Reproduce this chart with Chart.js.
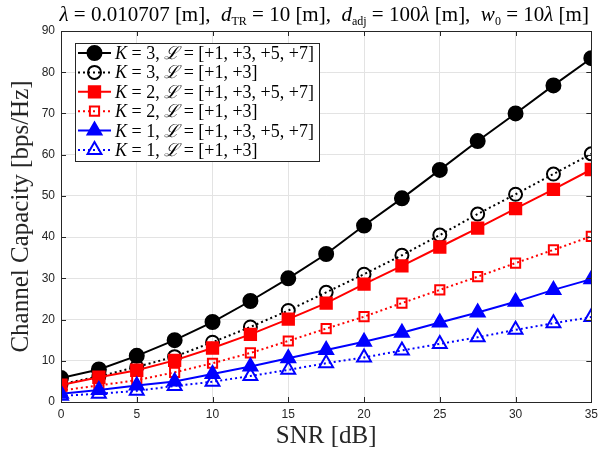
<!DOCTYPE html>
<html>
<head>
<meta charset="utf-8">
<script src="https://cdn.jsdelivr.net/npm/chart.js@4"></script>
<style>
  body { margin: 0; background: #fff; }
  #wrap { width: 603px; height: 451px; }
</style>
</head>
<body>
<div id="wrap"><canvas id="capacityChart" width="603" height="451"></canvas></div>
<script>
// SNR in dB
const snr = [0, 2.5, 5, 7.5, 10, 12.5, 15, 17.5, 20, 22.5, 25, 27.5, 30, 32.5, 35];

// channel capacity [bps/Hz]
const k3Full = [5.8, 7.9, 11.2, 15.0, 19.4, 24.5, 30.0, 35.9, 42.8, 49.4, 56.3, 63.3, 70.0, 76.8, 83.4];
const k3Half = [4.3, 6.2, 8.5, 11.0, 14.5, 18.2, 22.2, 26.6, 31.0, 35.6, 40.5, 45.6, 50.4, 55.3, 60.2];
const k2Full = [4.1, 6.0, 7.7, 10.1, 13.1, 16.4, 20.1, 24.0, 28.6, 33.0, 37.6, 42.2, 46.9, 51.6, 56.4];
const k2Half = [2.8, 4.0, 5.3, 7.2, 9.4, 11.9, 14.8, 17.8, 20.7, 24.0, 27.2, 30.4, 33.7, 36.9, 40.2];
const k1Full = [2.0, 2.9, 4.0, 5.0, 6.8, 8.6, 10.6, 12.6, 14.6, 16.8, 19.3, 21.7, 24.3, 27.2, 29.8];
const k1Half = [1.5, 2.0, 2.7, 3.9, 4.9, 6.3, 7.8, 9.4, 10.8, 12.5, 14.1, 15.7, 17.5, 19.1, 20.6];

const kValues = ['3', '3', '2', '2', '1', '1'];
const modeSets = ['[+1, +3, +5, +7]', '[+1, +3]', '[+1, +3, +5, +7]', '[+1, +3]', '[+1, +3, +5, +7]', '[+1, +3]'];

const serif = '"Liberation Serif", "DejaVu Serif", serif';
const sans = '"Liberation Sans", Arial, sans-serif';
const axisColor = '#262626';

function series(ys) {
    return ys.map((y, i) => ({ x: snr[i], y: y }));
}

function makeSet(ys, color, shape, dotted, filled, radius, idx) {
    return {
        data: series(ys),
        borderColor: color,
        borderWidth: 2,
        borderDash: dotted ? [2, 3] : [],
        pointStyle: shape,
        pointRadius: radius,
        pointHoverRadius: radius,
        pointBorderWidth: 2,
        pointBorderColor: color,
        pointBackgroundColor: filled ? color : 'rgba(0,0,0,0)',
        fill: false,
        tension: 0,
        order: 10 - idx
    };
}

const datasets = [
    makeSet(k3Full, '#000000', 'circle', false, true, 7, 0),
    makeSet(k3Half, '#000000', 'circle', true, false, 6.5, 1),
    makeSet(k2Full, '#ff0000', 'rect', false, true, 8, 2),
    makeSet(k2Half, '#ff0000', 'rect', true, false, 6.5, 3),
    makeSet(k1Full, '#0000ff', 'triangle', false, true, 8, 4),
    makeSet(k1Half, '#0000ff', 'triangle', true, false, 8, 5)
];

// draws a row of text pieces with their own fonts and offsets
function drawRich(ctx, parts, x, y, align) {
    let total = 0;
    parts.forEach(p => { ctx.font = p.f; total += ctx.measureText(p.t).width; });
    let cx = align === 'center' ? x - total / 2 : x;
    ctx.textBaseline = 'alphabetic';
    ctx.textAlign = 'left';
    parts.forEach(p => {
        ctx.font = p.f;
        ctx.fillText(p.t, cx, y + (p.dy || 0));
        cx += ctx.measureText(p.t).width;
    });
}

function drawMarker(ctx, ds, x, y) {
    const r = ds.pointRadius;
    ctx.save();
    ctx.lineWidth = ds.pointBorderWidth;
    ctx.strokeStyle = ds.pointBorderColor;
    ctx.fillStyle = ds.pointBackgroundColor;
    ctx.setLineDash([]);
    ctx.beginPath();
    if (ds.pointStyle === 'circle') {
        ctx.arc(x, y, r, 0, Math.PI * 2);
    } else if (ds.pointStyle === 'rect') {
        const s = r * Math.SQRT1_2;
        ctx.rect(x - s, y - s, 2 * s, 2 * s);
    } else {
        for (let k = 0; k < 3; k++) {
            const a = k * 2 * Math.PI / 3;
            const px = x + Math.sin(a) * r, py = y - Math.cos(a) * r;
            if (k === 0) ctx.moveTo(px, py); else ctx.lineTo(px, py);
        }
        ctx.closePath();
    }
    ctx.fill();
    ctx.stroke();
    ctx.restore();
}

const decorations = {
    id: 'decorations',
    afterDraw(chart) {
        const ctx = chart.ctx;
        const a = chart.chartArea;
        const xs = chart.scales.x, ys = chart.scales.y;
        ctx.save();

        // box and inward ticks
        ctx.strokeStyle = axisColor;
        ctx.lineWidth = 1;
        ctx.strokeRect(Math.round(a.left) + 0.5, Math.round(a.top) + 0.5,
            Math.round(a.right - a.left), Math.round(a.bottom - a.top));
        ctx.beginPath();
        for (let v = 0; v <= 35; v += 5) {
            const px = Math.round(xs.getPixelForValue(v)) + 0.5;
            ctx.moveTo(px, a.bottom); ctx.lineTo(px, a.bottom - 5);
            ctx.moveTo(px, a.top); ctx.lineTo(px, a.top + 5);
        }
        for (let v = 0; v <= 90; v += 10) {
            const py = Math.round(ys.getPixelForValue(v)) + 0.5;
            ctx.moveTo(a.left, py); ctx.lineTo(a.left + 5, py);
            ctx.moveTo(a.right, py); ctx.lineTo(a.right - 5, py);
        }
        ctx.stroke();

        // title
        ctx.fillStyle = '#000';
        const fr = '21px ' + serif, fi = 'italic 21px ' + serif, fs = '12px ' + serif;
        drawRich(ctx, [
            { t: 'λ', f: fi }, { t: ' = 0.010707 [m],  ', f: fr },
            { t: 'd', f: fi }, { t: 'TR', f: fs, dy: 4 }, { t: ' = 10 [m],  ', f: fr },
            { t: 'd', f: fi }, { t: 'adj', f: fs, dy: 4 }, { t: ' = 100', f: fr }, { t: 'λ', f: fi }, { t: ' [m],  ', f: fr },
            { t: 'w', f: fi }, { t: '0', f: fs, dy: 4 }, { t: ' = 10', f: fr }, { t: 'λ', f: fi }, { t: ' [m]', f: fr }
        ], (a.left + a.right) / 2 - 2, 21, 'center');

        // legend
        const lx = 75.5, ly = 43.5, lw = 244, lh = 118;
        ctx.fillStyle = '#fff';
        ctx.fillRect(lx, ly, lw, lh);
        ctx.strokeStyle = axisColor;
        ctx.lineWidth = 1;
        ctx.strokeRect(lx, ly, lw, lh);
        const lr = '18px ' + serif, li = 'italic 18px ' + serif;
        chart.data.datasets.forEach((ds, i) => {
            const y = 53 + i * 19.4;
            ctx.save();
            ctx.strokeStyle = ds.borderColor;
            ctx.lineWidth = ds.borderWidth;
            ctx.setLineDash(ds.borderDash);
            ctx.beginPath();
            ctx.moveTo(78, y); ctx.lineTo(111, y);
            ctx.stroke();
            ctx.restore();
            drawMarker(ctx, ds, 94.5, y);
            ctx.fillStyle = '#000';
            drawRich(ctx, [
                { t: 'K', f: li }, { t: ' = ' + kValues[i] + ', ', f: lr },
                { t: 'ℒ', f: li }, { t: ' = ' + modeSets[i], f: lr }
            ], 115, y + 6, 'left');
        });
        ctx.restore();
    }
};

const ctx = document.getElementById('capacityChart').getContext('2d');
const chart = new Chart(ctx, {
    type: 'line',
    data: { datasets: datasets },
    options: {
        responsive: false,
        animation: false,
        devicePixelRatio: 1,
        layout: { padding: { top: 31, right: 6, left: 0, bottom: 0 } },
        plugins: {
            legend: { display: false },
            title: { display: false },
            tooltip: { enabled: false }
        },
        scales: {
            x: {
                type: 'linear',
                min: 0,
                max: 35,
                afterFit(scale) { scale.height = 49; },
                ticks: { stepSize: 5, padding: 5, color: axisColor, font: { family: sans, size: 12 } },
                grid: { color: '#e3e3e3', drawTicks: false },
                border: { display: false },
                title: {
                    display: true,
                    text: 'SNR [dB]',
                    color: axisColor,
                    font: { family: serif, size: 25 },
                    padding: { top: 0, bottom: 0 }
                }
            },
            y: {
                min: 0,
                max: 90,
                afterFit(scale) { scale.width = 61; },
                ticks: { stepSize: 10, padding: 6, color: axisColor, font: { family: sans, size: 12 } },
                grid: { color: '#e3e3e3', drawTicks: false },
                border: { display: false },
                title: {
                    display: true,
                    text: 'Channel Capacity [bps/Hz]',
                    color: axisColor,
                    font: { family: serif, size: 25 },
                    padding: { top: 6, bottom: 0 }
                }
            }
        }
    },
    plugins: [decorations]
});
</script>
</body>
</html>
